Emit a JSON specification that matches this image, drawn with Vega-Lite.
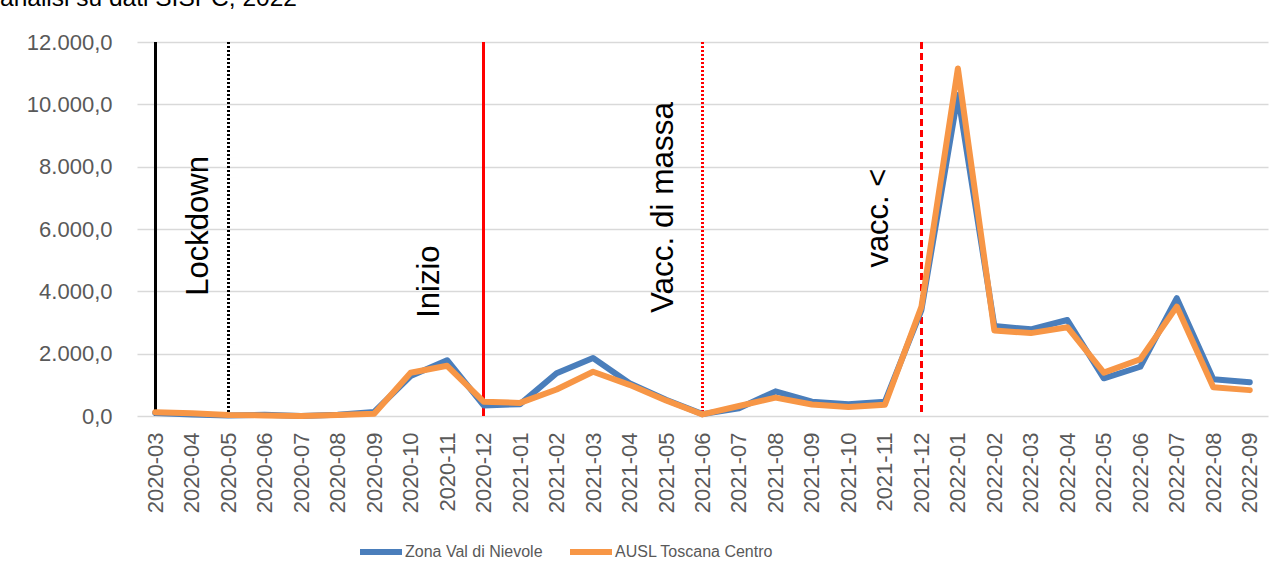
{
  "$schema": "https://vega.github.io/schema/vega-lite/v6.json",
  "autosize": {"type": "none"},
  "padding": {"left": 137, "top": 42, "right": 17, "bottom": 166},
  "width": 1131,
  "height": 374,
  "title": {"text": "analisi su dati SISPC, 2022", "anchor": "start", "frame": "group", "baseline": "alphabetic", "offset": 0, "dx": -137, "dy": -1, "font": "Liberation Sans", "fontSize": 24.5, "fontWeight": "normal", "color": "#000000"},
  "config": {
    "locale": {"number": {"decimal": ",", "thousands": ".", "grouping": [3], "currency": ["€", ""]}},
    "view": {"stroke": null},
    "font": "Liberation Sans"
  },
  "datasets": {
    "serie": [
      {"mese": "2020-03", "zona": "Zona Val di Nievole", "valore": 100},
      {"mese": "2020-04", "zona": "Zona Val di Nievole", "valore": 50},
      {"mese": "2020-05", "zona": "Zona Val di Nievole", "valore": 20},
      {"mese": "2020-06", "zona": "Zona Val di Nievole", "valore": 40},
      {"mese": "2020-07", "zona": "Zona Val di Nievole", "valore": 0},
      {"mese": "2020-08", "zona": "Zona Val di Nievole", "valore": 40},
      {"mese": "2020-09", "zona": "Zona Val di Nievole", "valore": 130},
      {"mese": "2020-10", "zona": "Zona Val di Nievole", "valore": 1280},
      {"mese": "2020-11", "zona": "Zona Val di Nievole", "valore": 1790},
      {"mese": "2020-12", "zona": "Zona Val di Nievole", "valore": 340},
      {"mese": "2021-01", "zona": "Zona Val di Nievole", "valore": 380},
      {"mese": "2021-02", "zona": "Zona Val di Nievole", "valore": 1370},
      {"mese": "2021-03", "zona": "Zona Val di Nievole", "valore": 1860},
      {"mese": "2021-04", "zona": "Zona Val di Nievole", "valore": 1050},
      {"mese": "2021-05", "zona": "Zona Val di Nievole", "valore": 520},
      {"mese": "2021-06", "zona": "Zona Val di Nievole", "valore": 60},
      {"mese": "2021-07", "zona": "Zona Val di Nievole", "valore": 250},
      {"mese": "2021-08", "zona": "Zona Val di Nievole", "valore": 790},
      {"mese": "2021-09", "zona": "Zona Val di Nievole", "valore": 460},
      {"mese": "2021-10", "zona": "Zona Val di Nievole", "valore": 380},
      {"mese": "2021-11", "zona": "Zona Val di Nievole", "valore": 460},
      {"mese": "2021-12", "zona": "Zona Val di Nievole", "valore": 3400},
      {"mese": "2022-01", "zona": "Zona Val di Nievole", "valore": 10300},
      {"mese": "2022-02", "zona": "Zona Val di Nievole", "valore": 2890},
      {"mese": "2022-03", "zona": "Zona Val di Nievole", "valore": 2780},
      {"mese": "2022-04", "zona": "Zona Val di Nievole", "valore": 3080},
      {"mese": "2022-05", "zona": "Zona Val di Nievole", "valore": 1210},
      {"mese": "2022-06", "zona": "Zona Val di Nievole", "valore": 1580},
      {"mese": "2022-07", "zona": "Zona Val di Nievole", "valore": 3780},
      {"mese": "2022-08", "zona": "Zona Val di Nievole", "valore": 1180},
      {"mese": "2022-09", "zona": "Zona Val di Nievole", "valore": 1080},
      {"mese": "2020-03", "zona": "AUSL Toscana Centro", "valore": 120},
      {"mese": "2020-04", "zona": "AUSL Toscana Centro", "valore": 90},
      {"mese": "2020-05", "zona": "AUSL Toscana Centro", "valore": 30},
      {"mese": "2020-06", "zona": "AUSL Toscana Centro", "valore": 20},
      {"mese": "2020-07", "zona": "AUSL Toscana Centro", "valore": 0},
      {"mese": "2020-08", "zona": "AUSL Toscana Centro", "valore": 30},
      {"mese": "2020-09", "zona": "AUSL Toscana Centro", "valore": 70},
      {"mese": "2020-10", "zona": "AUSL Toscana Centro", "valore": 1390},
      {"mese": "2020-11", "zona": "AUSL Toscana Centro", "valore": 1610},
      {"mese": "2020-12", "zona": "AUSL Toscana Centro", "valore": 460},
      {"mese": "2021-01", "zona": "AUSL Toscana Centro", "valore": 420},
      {"mese": "2021-02", "zona": "AUSL Toscana Centro", "valore": 850},
      {"mese": "2021-03", "zona": "AUSL Toscana Centro", "valore": 1420},
      {"mese": "2021-04", "zona": "AUSL Toscana Centro", "valore": 1000},
      {"mese": "2021-05", "zona": "AUSL Toscana Centro", "valore": 500},
      {"mese": "2021-06", "zona": "AUSL Toscana Centro", "valore": 50},
      {"mese": "2021-07", "zona": "AUSL Toscana Centro", "valore": 320},
      {"mese": "2021-08", "zona": "AUSL Toscana Centro", "valore": 590},
      {"mese": "2021-09", "zona": "AUSL Toscana Centro", "valore": 370},
      {"mese": "2021-10", "zona": "AUSL Toscana Centro", "valore": 290},
      {"mese": "2021-11", "zona": "AUSL Toscana Centro", "valore": 360},
      {"mese": "2021-12", "zona": "AUSL Toscana Centro", "valore": 3500},
      {"mese": "2022-01", "zona": "AUSL Toscana Centro", "valore": 11150},
      {"mese": "2022-02", "zona": "AUSL Toscana Centro", "valore": 2740},
      {"mese": "2022-03", "zona": "AUSL Toscana Centro", "valore": 2660},
      {"mese": "2022-04", "zona": "AUSL Toscana Centro", "valore": 2850},
      {"mese": "2022-05", "zona": "AUSL Toscana Centro", "valore": 1390},
      {"mese": "2022-06", "zona": "AUSL Toscana Centro", "valore": 1820},
      {"mese": "2022-07", "zona": "AUSL Toscana Centro", "valore": 3510},
      {"mese": "2022-08", "zona": "AUSL Toscana Centro", "valore": 920},
      {"mese": "2022-09", "zona": "AUSL Toscana Centro", "valore": 830}
    ],
    "note": [
      {"mese": "2020-04", "testo": "Lockdown", "posizione": 6100},
      {"mese": "2020-11", "testo": "Inizio", "posizione": 4310},
      {"mese": "2021-05", "testo": "Vacc. di massa", "posizione": 6690},
      {"mese": "2021-11", "testo": "vacc. <", "posizione": 6350}
    ]
  },
  "encoding": {
    "x": {"field": "mese", "type": "ordinal", "scale": {"type": "point", "padding": 0.5},
      "axis": {"title": null, "labelAngle": -90, "labelAlign": "right", "labelBaseline": "middle", "labelPadding": 16, "labelFontSize": 22, "labelColor": "#595959", "labelFont": "Liberation Sans", "ticks": false, "domain": false, "grid": false}},
    "y": {"field": "valore", "type": "quantitative", "scale": {"domain": [0, 12000], "nice": false},
      "axis": {"title": null, "values": [0, 2000, 4000, 6000, 8000, 10000, 12000], "format": ",.1f", "labelPadding": 25, "labelFontSize": 22, "labelColor": "#595959", "labelFont": "Liberation Sans", "ticks": false, "domain": false, "grid": true, "gridColor": "#d9d9d9", "gridWidth": 1.5}}
  },
  "layer": [
    {
      "data": {"name": "serie"},
      "mark": {"type": "rule", "color": "#000000", "strokeWidth": 2},
      "encoding": {"x": {"datum": "2020-03"}, "y": null}
    },
    {
      "data": {"name": "serie"},
      "mark": {"type": "rule", "color": "#000000", "strokeWidth": 2, "strokeDash": [2, 2]},
      "encoding": {"x": {"datum": "2020-05"}, "y": null}
    },
    {
      "data": {"name": "serie"},
      "mark": {"type": "rule", "color": "#ff0000", "strokeWidth": 2},
      "encoding": {"x": {"datum": "2020-12"}, "y": null}
    },
    {
      "data": {"name": "serie"},
      "mark": {"type": "rule", "color": "#ff0000", "strokeWidth": 2, "strokeDash": [2, 2]},
      "encoding": {"x": {"datum": "2021-06"}, "y": null}
    },
    {
      "data": {"name": "serie"},
      "mark": {"type": "rule", "color": "#ff0000", "strokeWidth": 2, "strokeDash": [7, 4]},
      "encoding": {"x": {"datum": "2021-12"}, "y": null}
    },
    {
      "data": {"name": "serie"},
      "transform": [{"filter": "datum.zona === 'Zona Val di Nievole'"}],
      "mark": {"type": "line", "strokeWidth": 6, "strokeJoin": "round", "strokeCap": "round"},
      "encoding": {
        "color": {"field": "zona", "type": "nominal",
          "scale": {"domain": ["Zona Val di Nievole", "AUSL Toscana Centro"], "range": ["#4a7ebb", "#f79646"]},
          "legend": {"title": null, "orient": "none", "legendX": 220, "legendY": 486, "direction": "horizontal", "symbolType": "stroke", "symbolSize": 1764, "symbolStrokeWidth": 6, "labelFontSize": 16, "labelColor": "#595959", "labelFont": "Liberation Sans", "labelOffset": 0, "columnPadding": 15}}
      }
    },
    {
      "data": {"name": "serie"},
      "transform": [{"filter": "datum.zona === 'AUSL Toscana Centro'"}],
      "mark": {"type": "line", "strokeWidth": 6, "strokeJoin": "round", "strokeCap": "round"},
      "encoding": {
        "color": {"field": "zona", "type": "nominal"}
      }
    },
    {
      "data": {"name": "note"},
      "transform": [{"filter": "datum.testo === 'Lockdown'"}],
      "mark": {"type": "text", "angle": 270, "align": "center", "baseline": "alphabetic", "fontSize": 31, "font": "Liberation Sans", "color": "#000000", "dy": 16},
      "encoding": {"y": {"field": "posizione", "type": "quantitative"}, "text": {"field": "testo"}}
    },
    {
      "data": {"name": "note"},
      "transform": [{"filter": "datum.testo === 'Inizio'"}],
      "mark": {"type": "text", "angle": 270, "align": "center", "baseline": "alphabetic", "fontSize": 31, "font": "Liberation Sans", "color": "#000000", "dy": -8},
      "encoding": {"y": {"field": "posizione", "type": "quantitative"}, "text": {"field": "testo"}}
    },
    {
      "data": {"name": "note"},
      "transform": [{"filter": "datum.testo === 'Vacc. di massa'"}],
      "mark": {"type": "text", "angle": 270, "align": "center", "baseline": "alphabetic", "fontSize": 31.5, "font": "Liberation Sans", "color": "#000000", "dy": 7},
      "encoding": {"y": {"field": "posizione", "type": "quantitative"}, "text": {"field": "testo"}}
    },
    {
      "data": {"name": "note"},
      "transform": [{"filter": "datum.testo === 'vacc. <'"}],
      "mark": {"type": "text", "angle": 270, "align": "center", "baseline": "alphabetic", "fontSize": 31, "font": "Liberation Sans", "color": "#000000", "dy": 3},
      "encoding": {"y": {"field": "posizione", "type": "quantitative"}, "text": {"field": "testo"}}
    }
  ]
}
